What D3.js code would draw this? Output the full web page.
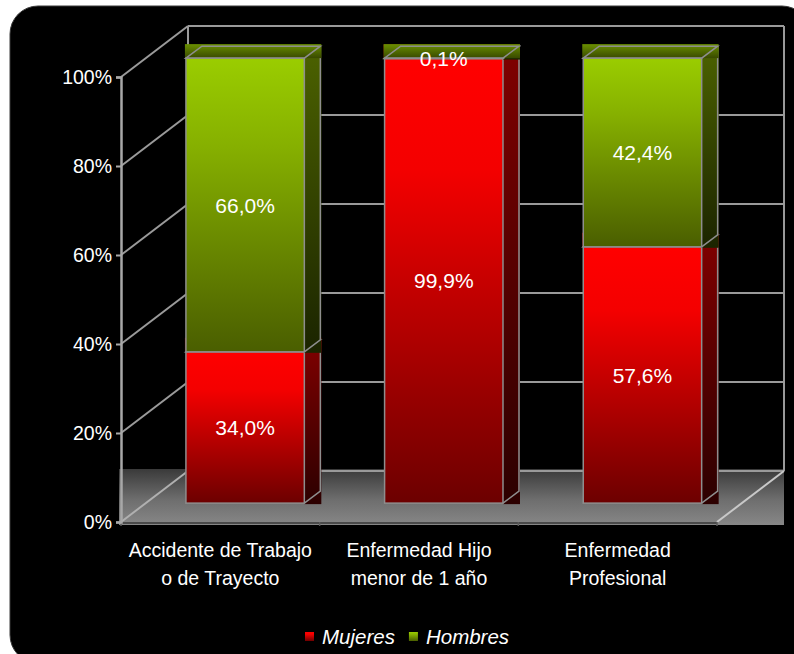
<!DOCTYPE html>
<html>
<head>
<meta charset="utf-8">
<script src="https://cdn.jsdelivr.net/npm/d3@7"></script>
<style>
  html, body { margin: 0; padding: 0; background: #ffffff; }
  svg { display: block; }
</style>
</head>
<body>
<svg id="chart" width="794" height="654"></svg>
<script>
// Distribución por sexo según tipo de licencia
const categories = [
  ["Accidente de Trabajo", "o de Trayecto"],
  ["Enfermedad Hijo", "menor de 1 año"],
  ["Enfermedad", "Profesional"]
];
const mujeres = [34.0, 99.9, 57.6];
const hombres = [66.0, 0.1, 42.4];
const seriesNames = ["Mujeres", "Hombres"];
const yTicks = [0, 20, 40, 60, 80, 100];

const fmt = v => d3.format(".1f")(v).replace(".", ",") + "%";

const svg = d3.select("#chart");
const FONT = "'Liberation Sans', Arial, sans-serif";

// panel background
svg.append("rect")
  .attr("x", 10).attr("y", 6).attr("width", 800).attr("height", 657)
  .attr("rx", 28).attr("ry", 28)
  .attr("fill", "#000").attr("stroke", "#3a3a3a").attr("stroke-width", 1);

const defs = svg.append("defs");
function vGrad(id, stops) {
  const g = defs.append("linearGradient").attr("id", id)
    .attr("x1", 0).attr("y1", 0).attr("x2", 0).attr("y2", 1);
  stops.forEach(([o, c]) => g.append("stop").attr("offset", o).attr("stop-color", c));
}
vGrad("floorGrad", [[0, "#3a3a3a"], [0.55, "#6e6e6e"], [1, "#878787"]]);
vGrad("frontM", [[0, "#ff0000"], [0.25, "#f40000"], [1, "#6c0000"]]);
vGrad("frontH", [[0, "#9acd00"], [0.3, "#86b000"], [1, "#4a5e00"]]);
vGrad("sideM", [[0, "#800000"], [1, "#2c0000"]]);
vGrad("sideH", [[0, "#4c6200"], [1, "#1b2400"]]);
vGrad("topM", [[0, "#b00000"], [1, "#5e0000"]]);
vGrad("topH", [[0, "#6a8f00"], [1, "#394900"]]);

// scales on the front plane
const x = d3.scaleBand().domain(d3.range(categories.length))
  .range([121, 717]).paddingInner(0.404).paddingOuter(0.202);
const y = d3.scaleLinear().domain([0, 100]).range([522, 77]);

// depth of the chart box and of the bars
const DX = 67, DY = -51;
const barT = 0.37;              // bar front position in the depth
const bdx = 16, bdy = -12;      // bar depth
const P = (px, py, t) => [px + DX * t, py + DY * t];

const x0 = x.range()[0], x1 = x.range()[1];
const gridColor = "#9a9a9a";

// floor
svg.append("rect")
  .attr("x", x0 - 2).attr("y", y(0) + DY - 2)
  .attr("width", x1 + DX - x0 + 2).attr("height", -DY + 5)
  .attr("fill", "url(#floorGrad)");

const grid = svg.append("g").attr("stroke", gridColor).attr("stroke-width", 2).attr("fill", "none");
// back wall gridlines
yTicks.forEach(v => {
  const a = P(x0, y(v), 1), b = P(x1, y(v), 1);
  grid.append("line").attr("x1", a[0]).attr("y1", a[1]).attr("x2", b[0]).attr("y2", b[1]);
});
// back wall verticals
[x0, x1].forEach(px => {
  const a = P(px, y(100), 1), b = P(px, y(0), 1);
  grid.append("line").attr("x1", a[0]).attr("y1", a[1]).attr("x2", b[0]).attr("y2", b[1]);
});
// side wall diagonals
yTicks.forEach(v => {
  const b = P(x0, y(v), 1);
  grid.append("line").attr("x1", x0).attr("y1", y(v)).attr("x2", b[0]).attr("y2", b[1])
    .attr("stroke", v === 0 ? "#b0b0b0" : gridColor);
});
// floor right diagonal
{
  const b = P(x1, y(0), 1);
  grid.append("line").attr("x1", x1).attr("y1", y(0)).attr("x2", b[0]).attr("y2", b[1])
    .attr("stroke", "#c8c8c8");
}
// front floor edge and category ticks
svg.append("line").attr("x1", x0).attr("y1", y(0) + 1).attr("x2", x1).attr("y2", y(0) + 1)
  .attr("stroke", "#4a4a4a").attr("stroke-width", 2);
d3.range(categories.length + 1).forEach(i => {
  const px = x0 + i * x.step();
  svg.append("line").attr("x1", px).attr("y1", y(0)).attr("x2", px).attr("y2", y(0) + 4)
    .attr("stroke", "#5a5a5a").attr("stroke-width", 1.5);
});

// value axis
const axisG = svg.append("g").attr("transform", `translate(${x0},0)`)
  .call(d3.axisLeft(y).tickValues(yTicks).tickSize(5).tickPadding(4).tickFormat(d => d + "%"));
axisG.select(".domain").attr("stroke", "#a8a8a8").attr("stroke-width", 2.5);
axisG.selectAll(".tick line").attr("stroke", "#a8a8a8").attr("stroke-width", 2);
axisG.selectAll(".tick text").attr("fill", "#ffffff")
  .style("font-family", FONT).style("font-size", "19.5px");

// bars
const stacks = categories.map((c, i) => [
  { s: "M", lo: 0, hi: mujeres[i], v: mujeres[i] },
  { s: "H", lo: mujeres[i], hi: mujeres[i] + hombres[i], v: hombres[i] }
]);
const edge = "#8e8e8e";
const bars = svg.append("g");
stacks.forEach((segs, i) => {
  const fx0 = x(i) + DX * barT;
  const fx1 = fx0 + x.bandwidth();
  segs.forEach(seg => {
    const yTop = y(seg.hi) + DY * barT;
    const yBot = y(seg.lo) + DY * barT;
    const g = bars.append("g");
    // side face
    g.append("rect").attr("x", fx1).attr("y", yTop + bdy)
      .attr("width", bdx + 1).attr("height", yBot - yTop - bdy + 1)
      .attr("fill", `url(#side${seg.s})`);
    g.append("path")
      .attr("d", `M${fx1},${yBot}L${fx1 + bdx},${yBot + bdy}L${fx1 + bdx},${yTop + bdy}`)
      .attr("fill", "none").attr("stroke", edge).attr("stroke-width", 1.5);
    // top face
    g.append("rect").attr("x", fx0 - 1).attr("y", yTop + bdy - 2)
      .attr("width", fx1 - fx0 + bdx + 2).attr("height", -bdy + 2)
      .attr("fill", `url(#top${seg.s})`);
    g.append("path")
      .attr("d", `M${fx0},${yTop}L${fx0 + bdx},${yTop + bdy}L${fx1 + bdx},${yTop + bdy}L${fx1},${yTop}Z`)
      .attr("fill", "none").attr("stroke", edge).attr("stroke-width", 1.5);
    // front face
    g.append("rect").attr("x", fx0).attr("y", yTop)
      .attr("width", fx1 - fx0).attr("height", Math.max(0, yBot - yTop))
      .attr("fill", `url(#front${seg.s})`)
      .attr("stroke", edge).attr("stroke-width", 1.5);
  });
});

// value labels
const labels = svg.append("g")
  .style("font-family", FONT).style("font-size", "21px").attr("fill", "#ffffff")
  .attr("text-anchor", "middle");
stacks.forEach((segs, i) => {
  const cx = x(i) + DX * barT + x.bandwidth() / 2;
  segs.forEach(seg => {
    const cy = y((seg.lo + seg.hi) / 2) + DY * barT;
    labels.append("text").attr("x", cx).attr("y", cy).attr("dy", "0.36em").text(fmt(seg.v));
  });
});

// category labels
const catG = svg.append("g")
  .style("font-family", FONT).style("font-size", "19.5px").attr("fill", "#ffffff")
  .attr("text-anchor", "middle");
categories.forEach((lines, i) => {
  const cx = x(i) + x.bandwidth() / 2;
  lines.forEach((t, k) => {
    catG.append("text").attr("x", cx).attr("y", 550 + k * 28).attr("dy", "0.36em").text(t);
  });
});

// legend
const legend = svg.append("g").style("font-family", FONT).style("font-size", "20.5px")
  .style("font-style", "italic").attr("fill", "#ffffff");
const legendItems = [
  { name: seriesNames[0], fill: "url(#frontM)" },
  { name: seriesNames[1], fill: "url(#frontH)" }
];
let lx = 305;
legendItems.forEach(it => {
  legend.append("rect").attr("x", lx).attr("y", 632).attr("width", 9).attr("height", 9).attr("fill", it.fill);
  const t = legend.append("text").attr("x", lx + 17).attr("y", 637).attr("dy", "0.36em").text(it.name);
  lx += 17 + t.node().getComputedTextLength() + 14;
});
</script>
</body>
</html>
